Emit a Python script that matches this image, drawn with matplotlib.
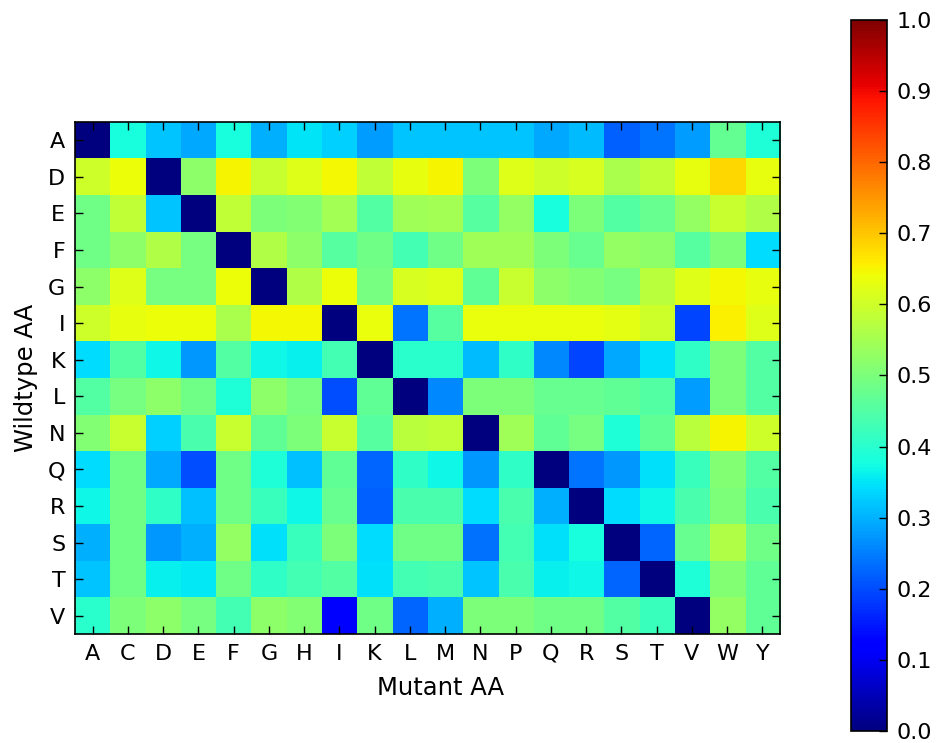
import matplotlib
matplotlib.use("Agg")
import matplotlib.pyplot as plt
import numpy as np

mutant_aa = list("ACDEFGHIKLMNPQRSTVWY")
wildtype_aa = list("ADEFGIKLNQRSTV")

# fraction per wildtype row, columns follow mutant_aa
row_A = [0.00, 0.38, 0.32, 0.29, 0.38, 0.30, 0.35, 0.33, 0.28, 0.32, 0.32, 0.32, 0.32, 0.29, 0.31, 0.22, 0.24, 0.28, 0.47, 0.39]
row_D = [0.60, 0.64, 0.00, 0.52, 0.65, 0.59, 0.62, 0.645, 0.585, 0.63, 0.65, 0.50, 0.62, 0.60, 0.61, 0.555, 0.585, 0.63, 0.68, 0.63]
row_E = [0.485, 0.585, 0.32, 0.00, 0.585, 0.50, 0.51, 0.55, 0.45, 0.545, 0.55, 0.455, 0.53, 0.38, 0.50, 0.45, 0.475, 0.53, 0.59, 0.565]
row_F = [0.485, 0.52, 0.565, 0.495, 0.00, 0.565, 0.52, 0.455, 0.485, 0.43, 0.485, 0.545, 0.545, 0.50, 0.475, 0.53, 0.52, 0.455, 0.50, 0.34]
row_G = [0.52, 0.62, 0.495, 0.495, 0.64, 0.00, 0.565, 0.64, 0.495, 0.61, 0.62, 0.465, 0.59, 0.52, 0.51, 0.495, 0.575, 0.62, 0.645, 0.63]
row_I = [0.60, 0.63, 0.64, 0.64, 0.555, 0.645, 0.645, 0.00, 0.635, 0.24, 0.455, 0.635, 0.635, 0.635, 0.635, 0.625, 0.60, 0.195, 0.655, 0.62]
row_K = [0.34, 0.45, 0.37, 0.275, 0.45, 0.37, 0.36, 0.43, 0.00, 0.40, 0.40, 0.31, 0.41, 0.26, 0.195, 0.29, 0.345, 0.41, 0.50, 0.45]
row_L = [0.45, 0.495, 0.52, 0.485, 0.39, 0.52, 0.495, 0.20, 0.465, 0.00, 0.26, 0.50, 0.50, 0.475, 0.475, 0.465, 0.45, 0.28, 0.50, 0.45]
row_N = [0.51, 0.59, 0.33, 0.44, 0.59, 0.465, 0.50, 0.59, 0.455, 0.575, 0.585, 0.00, 0.545, 0.465, 0.495, 0.39, 0.465, 0.575, 0.65, 0.60]
row_Q = [0.34, 0.485, 0.29, 0.20, 0.485, 0.39, 0.315, 0.465, 0.225, 0.41, 0.37, 0.275, 0.41, 0.00, 0.24, 0.275, 0.345, 0.42, 0.51, 0.45]
row_R = [0.37, 0.485, 0.41, 0.315, 0.485, 0.42, 0.37, 0.475, 0.22, 0.44, 0.44, 0.34, 0.44, 0.30, 0.00, 0.34, 0.37, 0.44, 0.50, 0.44]
row_S = [0.30, 0.485, 0.275, 0.30, 0.53, 0.345, 0.42, 0.50, 0.34, 0.485, 0.485, 0.235, 0.43, 0.345, 0.38, 0.00, 0.225, 0.475, 0.565, 0.485]
row_T = [0.32, 0.485, 0.36, 0.355, 0.485, 0.41, 0.43, 0.45, 0.345, 0.43, 0.44, 0.32, 0.44, 0.36, 0.37, 0.225, 0.00, 0.39, 0.51, 0.465]
row_V = [0.40, 0.50, 0.52, 0.495, 0.43, 0.52, 0.51, 0.11, 0.485, 0.225, 0.30, 0.50, 0.50, 0.485, 0.485, 0.45, 0.42, 0.00, 0.53, 0.465]

values = np.array([row_A, row_D, row_E, row_F, row_G, row_I, row_K,
                   row_L, row_N, row_Q, row_R, row_S, row_T, row_V])

fig = plt.figure(figsize=(9.38, 7.43), dpi=100)
ax = fig.add_axes([0.080, 0.1467, 0.7516, 0.689])
im = ax.imshow(values, cmap="jet", vmin=0, vmax=1, aspect="auto",
               interpolation="nearest")

ax.set_xticks(np.arange(len(mutant_aa)))
ax.set_xticklabels(mutant_aa)
ax.set_yticks(np.arange(len(wildtype_aa)))
ax.set_yticklabels(wildtype_aa)
ax.tick_params(direction="in", top=True, right=True, length=6, width=1,
               labelsize=16, pad=7)
ax.set_xlabel("Mutant AA", fontsize=17.5, labelpad=9)
ax.set_ylabel("Wildtype AA", fontsize=17.5, labelpad=7)
ax.xaxis.label.set_x(0.518)
for s in ax.spines.values():
    s.set_linewidth(1.2)

cax = fig.add_axes([0.907, 0.0162, 0.0384, 0.957])
cb = fig.colorbar(im, cax=cax, ticks=np.linspace(0, 1, 11))
cb.ax.set_yticklabels([f"{t:.1f}" for t in np.linspace(0, 1, 11)])
cb.ax.tick_params(direction="in", length=6, width=1, labelsize=16, pad=7)
cb.outline.set_linewidth(1.2)

fig.savefig("out.png", dpi=100, facecolor="white")
plt.close(fig)
